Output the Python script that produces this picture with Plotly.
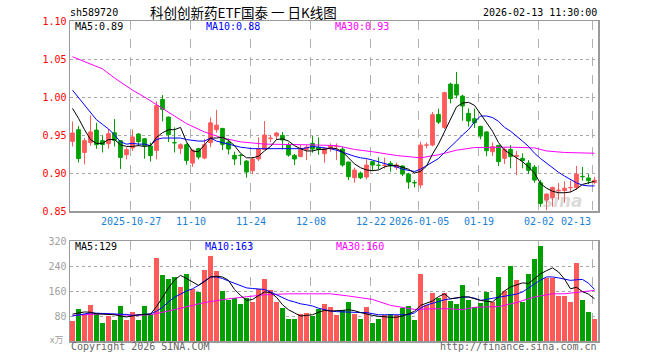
import plotly.graph_objects as go

# ---------------- data ----------------
opens = [0.9416,0.9570,0.9270,0.9400,0.9565,0.9425,0.9386,0.9530,0.9425,0.9240,
         0.9330,0.9513,0.9450,0.9355,0.9297,0.9969,0.9736,0.9400,0.9324,0.9372,
         0.9130,0.9320,0.9197,0.9400,0.9570,0.9587,0.9407,0.9232,0.9233,0.9157,
         0.9030,0.9184,0.9310,0.9452,0.9487,0.9495,0.9368,0.9232,0.9215,0.9310,
         0.9390,0.9337,0.9254,0.9320,0.9345,0.9315,0.9144,0.8938,0.8999,0.8947,
         0.9149,0.9103,0.9100,0.9127,0.9074,0.9092,0.8986,0.8875,0.8842,0.9365,
         0.9368,0.9771,0.9600,1.0170,1.0166,1.0012,0.9785,0.9714,0.9614,0.9540,
         0.9280,0.9363,0.9193,0.9310,0.9215,0.9193,0.9131,0.9078,0.8872,0.8644,
         0.8675,0.8765,0.8770,0.8805,0.8807,0.8955,0.8934,0.8875]
highs = [0.9679,0.9620,0.9460,0.9760,0.9660,0.9495,0.9580,0.9710,0.9430,0.9337,
         0.9570,0.9520,0.9460,0.9400,0.9942,1.0026,0.9740,0.9600,0.9390,0.9390,
         0.9310,0.9330,0.9450,0.9730,0.9830,0.9590,0.9451,0.9280,0.9250,0.9170,
         0.9210,0.9469,0.9684,0.9500,0.9540,0.9540,0.9400,0.9250,0.9368,0.9368,
         0.9486,0.9469,0.9340,0.9390,0.9390,0.9346,0.9150,0.9070,0.9020,0.9184,
         0.9150,0.9206,0.9202,0.9157,0.9136,0.9100,0.9004,0.8907,0.9412,0.9400,
         0.9802,0.9846,1.0070,1.0188,1.0330,1.0030,0.9850,0.9846,0.9620,0.9550,
         0.9403,0.9370,0.9330,0.9368,0.9290,0.9258,0.9170,0.9105,0.8907,0.8730,
         0.8820,0.8868,0.8890,0.8900,0.9092,0.9080,0.8986,0.8950]
lows = [0.9350,0.9140,0.9113,0.9360,0.9318,0.9270,0.9320,0.9350,0.9053,0.9180,
        0.9290,0.9355,0.9188,0.9150,0.9180,0.9680,0.9407,0.9270,0.9250,0.9110,
        0.9080,0.9180,0.9180,0.9340,0.9530,0.9302,0.9245,0.9105,0.9105,0.8938,
        0.8986,0.9157,0.9302,0.9407,0.9434,0.9310,0.9215,0.9105,0.9210,0.9170,
        0.9267,0.9241,0.9136,0.9280,0.9170,0.9083,0.8907,0.8872,0.8920,0.8916,
        0.9030,0.9048,0.9057,0.9017,0.9040,0.8960,0.8793,0.8811,0.8798,0.9325,
        0.9350,0.9644,0.9579,0.9916,0.9983,0.9688,0.9610,0.9592,0.9443,0.9220,
        0.9224,0.9092,0.9118,0.9061,0.8973,0.9061,0.8986,0.8872,0.8557,0.8513,
        0.8557,0.8649,0.8610,0.8745,0.8776,0.8899,0.8851,0.8850]
closes = [0.9526,0.9190,0.9425,0.9540,0.9372,0.9375,0.9517,0.9430,0.9205,0.9307,
          0.9474,0.9412,0.9360,0.9230,0.9886,0.9837,0.9504,0.9395,0.9372,0.9166,
          0.9300,0.9210,0.9372,0.9660,0.9630,0.9377,0.9315,0.9184,0.9228,0.9013,
          0.9184,0.9320,0.9500,0.9460,0.9526,0.9434,0.9236,0.9184,0.9310,0.9340,
          0.9315,0.9310,0.9320,0.9359,0.9350,0.9105,0.8951,0.9039,0.8938,0.9105,
          0.9105,0.9100,0.9105,0.9092,0.9105,0.8986,0.8881,0.8868,0.9368,0.9370,
          0.9767,0.9670,1.0057,0.9978,1.0026,0.9882,0.9684,0.9660,0.9486,0.9293,
          0.9346,0.9149,0.9310,0.9215,0.9233,0.9162,0.9035,0.8907,0.8600,0.8723,
          0.8811,0.8775,0.8800,0.8810,0.8986,0.8950,0.8899,0.8905]
volumes = [63,101,87,114,91,57,80,66,111,66,
           92,66,111,87,265,210,200,204,172,213,
           165,156,226,271,223,159,130,137,117,137,
           124,165,197,162,124,105,69,69,85,89,
           79,101,117,108,84,98,124,85,72,108,
           57,69,82,85,82,105,111,66,213,114,
           153,137,153,127,117,178,130,108,121,156,
           124,204,159,239,194,124,213,261,303,201,
           201,143,143,124,249,130,92,69]

# moving-average lines
ma5_price = [0.985,0.972,0.957,0.944,0.939,0.939,0.944,0.944,0.937,0.935,
             0.935,0.936,0.935,0.936,0.947,0.953,0.957,0.957,0.960,0.941,
             0.929,0.928,0.937,0.946,0.946,0.947,0.943,0.936,0.926,0.920,
             0.920,0.922,0.929,0.935,0.944,0.945,0.942,0.936,0.932,0.929,
             0.929,0.931,0.931,0.933,0.932,0.928,0.920,0.912,0.907,0.904,
             0.903,0.904,0.908,0.910,0.910,0.908,0.905,0.900,0.902,0.909,
             0.925,0.938,0.955,0.970,0.987,0.992,0.993,0.989,0.978,0.967,
             0.955,0.940,0.930,0.925,0.920,0.915,0.908,0.900,0.886,0.880,
             0.876,0.874,0.874,0.875,0.879,0.885,0.887,0.889]
ma10_price = [1.009,0.999,0.990,0.979,0.970,0.964,0.958,0.950,0.941,0.938,
              0.939,0.938,0.938,0.936,0.944,0.946,0.946,0.946,0.946,0.944,
              0.943,0.942,0.942,0.946,0.942,0.940,0.937,0.935,0.934,0.933,
              0.932,0.932,0.932,0.932,0.932,0.932,0.932,0.932,0.932,0.933,
              0.935,0.934,0.933,0.932,0.930,0.927,0.925,0.922,0.920,0.919,
              0.917,0.915,0.913,0.910,0.908,0.905,0.903,0.902,0.905,0.910,
              0.914,0.919,0.927,0.934,0.942,0.950,0.957,0.967,0.975,0.975,
              0.973,0.968,0.960,0.955,0.949,0.942,0.935,0.926,0.919,0.913,
              0.906,0.901,0.896,0.891,0.887,0.884,0.883,0.883]
ma30_price_idx = [0,2,5,7,10,12,14,16,19,22,25,28,32,40,44,47,50,54,58,61,64,67,73,77,79,82,87]
ma30_price = [1.053,1.047,1.037,1.025,1.009,1.000,0.990,0.980,0.965,0.954,0.946,0.941,0.938,
              0.937,0.936,0.931,0.928,0.923,0.920,0.924,0.930,0.9335,0.934,0.933,0.929,0.927,0.926]

ma5_vol = [86,90,93,92,87,86,85,84,80,77,
           80,84,85,86,110,140,170,195,210,200,
           190,178,190,205,207,205,194,165,146,130,
           133,145,157,155,140,116,100,90,80,82,
           84,92,98,96,96,98,100,97,91,86,
           82,79,77,76,76,80,87,95,114,122,
           128,142,151,135,138,141,141,135,130,127,
           125,141,160,173,180,186,184,200,215,225,
           234,221,198,167,172,158,150,135]
ma10_vol = [80,84,87,90,89,88,87,87,87,85,
            82,83,84,87,95,108,125,140,150,160,
            167,178,192,205,205,200,192,185,177,170,
            168,167,165,157,148,138,130,125,119,116,
            112,105,100,96,94,93,91,91,91,91,
            88,84,84,84,84,84,84,90,105,115,
            121,127,132,135,138,140,141,137,130,133,
            138,140,143,146,150,157,170,183,195,205,
            205,202,198,194,196,197,185,165]
ma30_vol_idx = [0,5,10,13,16,19,22,26,29,32,36,43,46,50,53,57,60,63,65,67,71,74,77,80,82,87]
ma30_vol = [82,87,82,84,96,109,123,135,141,148,151,151,144,133,114,101,103,103,100,108,110,123,141,151,151,162]

tick_idx = [10,20,30,40,50,58,68,78,87]
tick_labels = ["2025-10-27","11-10","11-24","12-08","12-22","2026-01-05","01-19","02-02","02-13"]
price_ticks = [0.85,0.90,0.95,1.00,1.05,1.10]
vol_ticks = [80,160,240,320]

# ---------------- figure ----------------
W, H = 660, 360
RED, GREEN = "#ff5a5a", "#00a000"
MONO = "DejaVu Sans Mono"
n = len(closes)
idx = list(range(n))
up = [c >= o for o, c in zip(opens, closes)]
colors = [RED if u else GREEN for u in up]

def px_x(p):
    return p / W

def px_y(p):
    return 1 - p / H

fig = go.Figure()

# wicks
for flag, col in ((True, RED), (False, GREEN)):
    xs, ys = [], []
    for i in idx:
        if up[i] == flag:
            xs += [i, i, None]
            ys += [lows[i], highs[i], None]
    fig.add_trace(go.Scatter(x=xs, y=ys, mode="lines", line=dict(color=col, width=1),
                             hoverinfo="skip", showlegend=False, xaxis="x", yaxis="y"))

# bodies
fig.add_trace(go.Bar(x=idx, base=[min(o, c) for o, c in zip(opens, closes)],
                     y=[abs(c - o) for o, c in zip(opens, closes)], width=0.62,
                     marker=dict(color=colors, line=dict(color=colors, width=1)),
                     showlegend=False, xaxis="x", yaxis="y"))

fig.add_trace(go.Scatter(x=ma30_price_idx, y=ma30_price, mode="lines",
                         line=dict(color="#ff00ff", width=1), showlegend=False,
                         xaxis="x", yaxis="y"))
fig.add_trace(go.Scatter(x=idx, y=ma10_price, mode="lines", line=dict(color="#0000ff", width=1),
                         showlegend=False, xaxis="x", yaxis="y"))
fig.add_trace(go.Scatter(x=idx, y=ma5_price, mode="lines", line=dict(color="#000000", width=1),
                         showlegend=False, xaxis="x", yaxis="y"))

# volume
fig.add_trace(go.Bar(x=idx, y=volumes, width=0.78, marker=dict(color=colors, line=dict(width=0)),
                     showlegend=False, xaxis="x2", yaxis="y2"))
fig.add_trace(go.Scatter(x=ma30_vol_idx, y=ma30_vol, mode="lines", line=dict(color="#ff00ff", width=1),
                         showlegend=False, xaxis="x2", yaxis="y2"))
fig.add_trace(go.Scatter(x=idx, y=ma10_vol, mode="lines", line=dict(color="#0000ff", width=1),
                         showlegend=False, xaxis="x2", yaxis="y2"))
fig.add_trace(go.Scatter(x=idx, y=ma5_vol, mode="lines", line=dict(color="#000000", width=1),
                         showlegend=False, xaxis="x2", yaxis="y2"))

left, right = 70, 598
xrange = [-2.5 / 6, -2.5 / 6 + (right - left) / 6]
grid_x = [t - 1 / 3 for t in tick_idx]

xcommon = dict(range=xrange, domain=[px_x(left), px_x(right)], showline=True, mirror=True,
               linecolor="#9a9a9a", linewidth=1.5, tickvals=grid_x, showticklabels=False,
               ticks="", showgrid=True, gridcolor="#b0b0b0", griddash="dash", gridwidth=1,
               zeroline=False, fixedrange=True, automargin=False)
ycommon = dict(showline=True, mirror=True, linecolor="#9a9a9a", linewidth=1.5,
               showgrid=True, gridcolor="#a8a8a8", griddash="dot", gridwidth=1,
               zeroline=False, ticks="", fixedrange=True, automargin=False)
fig.update_layout(
    width=W, height=H, margin=dict(l=0, r=0, t=0, b=0, autoexpand=False),
    paper_bgcolor="white", plot_bgcolor="white", barmode="overlay", bargap=0,
    showlegend=False,
    xaxis=dict(**xcommon, anchor="y"),
    xaxis2=dict(**xcommon, anchor="y2"),
    yaxis=dict(**ycommon, range=[0.85, 1.10], domain=[px_y(211), px_y(21)], anchor="x",
               tickvals=price_ticks, ticktext=["%.2f" % v for v in price_ticks],
               tickfont=dict(family=MONO, size=10, color="#ff0000")),
    yaxis2=dict(**ycommon, range=[0, 320], domain=[px_y(341), px_y(241)], anchor="x2",
                tickvals=vol_ticks, ticktext=[str(v) for v in vol_ticks],
                tickfont=dict(family=MONO, size=10, color="#a0a0a0")),
)

def ann(text, x, y, xanchor="left", color="#000", size=10, family=MONO, **kw):
    fig.add_annotation(text=text, x=x, y=y, xref="paper", yref="paper", xanchor=xanchor,
                       yanchor="middle", showarrow=False, borderpad=0,
                       font=dict(family=family, size=size, color=color), **kw)

# header
ann("sh589720", px_x(69), px_y(13))
ann("科创创新药ETF国泰 一 日K线图", px_x(149), px_y(12.5), size=13.5,
    family="Noto Sans CJK SC")
ann("2026-02-13 11:30:00", px_x(598), px_y(13), xanchor="right")

# MA labels
ann("MA5:0.89", px_x(74), px_y(26.5))
ann("MA10:0.88", px_x(205), px_y(26.5), color="#0000ff")
ann("MA30:0.93", px_x(334), px_y(26.5), color="#ff00ff")
ann("MA5:129", px_x(74), px_y(246.5))
ann("MA10:163", px_x(204), px_y(246.5), color="#0000ff")
ann("MA30:160", px_x(335), px_y(246.5), color="#ff00ff")

# date labels
for t, lab in zip(tick_idx, tick_labels):
    xpos = t - 1 / 3
    last = t == tick_idx[-1]
    fig.add_annotation(text=lab, x=xpos, y=px_y(221), xref="x", yref="paper",
                       xanchor="right" if last else "center", xshift=-1 if last else 0,
                       yanchor="middle", showarrow=False, borderpad=0,
                       font=dict(family=MONO, size=10, color="#1a7fd4"))

# footer
ann("x万", px_x(49), px_y(339.5), color="#a0a0a0", family="Noto Sans CJK SC", size=9)
ann("Copyright 2026 SINA.COM", px_x(70), px_y(346), color="#666666")
ann("http://finance.sina.com.cn", px_x(598), px_y(346), xanchor="right", color="#666666")

# watermark
ann("<i><b>sina</b></i>", px_x(563), px_y(201), xanchor="center", color="rgba(150,150,150,0.35)",
    size=17, family="DejaVu Sans")

fig.write_html("out.html", config={"displayModeBar": False, "staticPlot": True},
               post_script="document.body.style.margin='0';document.body.style.padding='0';")
